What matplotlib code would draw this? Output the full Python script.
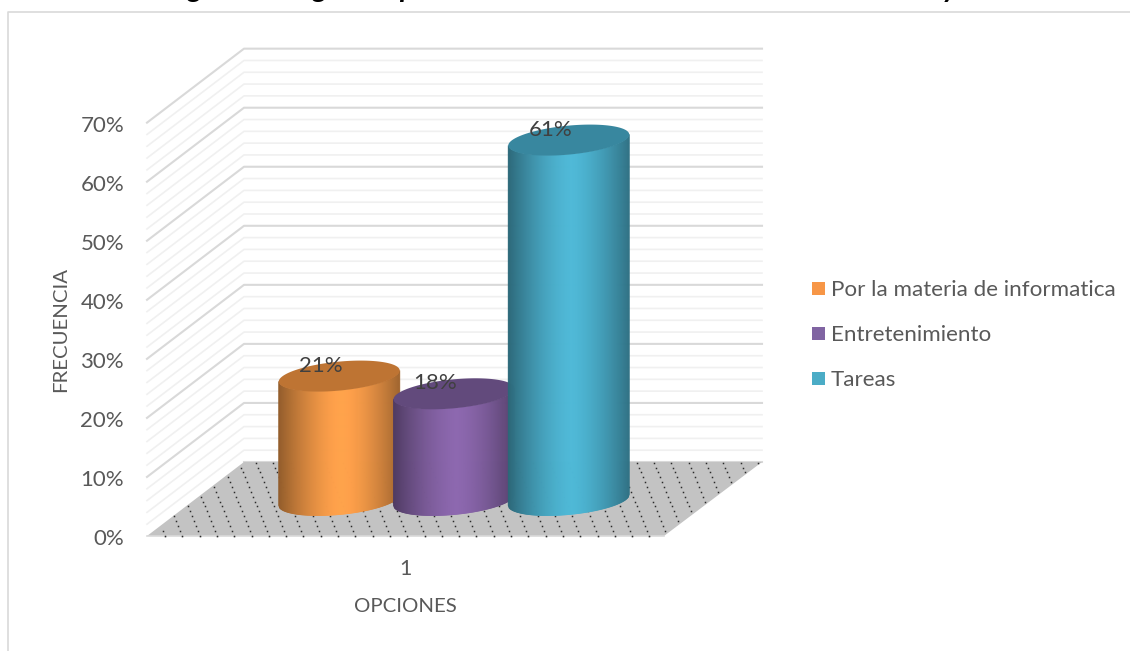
import numpy as np
from matplotlib import pyplot as plt
from matplotlib.collections import PolyCollection
from matplotlib.colors import to_rgb

plt.rcParams['font.family'] = ['Lato', 'DejaVu Sans']

# data
categories = ["Por la materia de informatica", "Entretenimiento", "Tareas"]
values = [21, 18, 61]
group_labels = ["1"]
y_ticks = [0, 10, 20, 30, 40, 50, 60, 70]
body_colors = ["#FFA04A", "#8A66AC", "#4DB5D3"]
top_colors = ["#BE7433", "#624A7C", "#38879F"]
legend_colors = ["#F79646", "#8064A2", "#4BACC6"]

# pixel geometry of the fake 3d box
FRONT_LEFT = 147
FRONT_RIGHT = 664
BACK_LEFT = 244
BACK_RIGHT = 762
FRONT_ZERO = 536
BACK_ZERO = 462
WALL_SCALE = 5.905
BAR_SCALE = 5.9
BAR_ZERO = 500
GROUP_CENTER = 454
BAR_STEP = 114.75
RX = 60.5
RY = 14.5
TILT = 5.5


def front_y(v):
    return FRONT_ZERO - WALL_SCALE * v


def back_y(v):
    return BACK_ZERO - WALL_SCALE * v


def draw_walls(ax):
    for v in range(0, 71, 2):
        major = v % 10 == 0
        color = "#D9D9D9" if major else "#F0F0F0"
        width = 1.5 if major else 1.2
        if v == 0:
            ax.plot([BACK_LEFT, BACK_RIGHT], [back_y(0), back_y(0)], color=color, lw=width)
            continue
        ax.plot([FRONT_LEFT, BACK_LEFT, BACK_RIGHT], [front_y(v), back_y(v), back_y(v)],
                color=color, lw=width, zorder=1)


def draw_floor(ax):
    ax.fill([FRONT_LEFT, BACK_LEFT, BACK_RIGHT, FRONT_RIGHT],
            [FRONT_ZERO, BACK_ZERO, BACK_ZERO, FRONT_ZERO],
            color="#C3C3C3", lw=0, zorder=2)
    ax.plot([FRONT_LEFT, FRONT_RIGHT], [FRONT_ZERO, FRONT_ZERO], color="#D9D9D9", lw=1.2, zorder=2)
    # dotted pattern of the floor
    xs, ys = [], []
    slope = (BACK_LEFT - FRONT_LEFT) / (FRONT_ZERO - BACK_ZERO)
    for row, y in enumerate(np.arange(FRONT_ZERO - 0.5, BACK_ZERO, -4.85)):
        left = FRONT_LEFT + (FRONT_ZERO - y) * slope
        right = FRONT_RIGHT + (FRONT_ZERO - y) * slope
        start = 165 - 2.0 * row
        start += np.ceil((left + 1 - start) / 17.3) * 17.3
        for x in np.arange(start, right - 1, 17.3):
            xs.append(x)
            ys.append(y)
    ax.scatter(xs, ys, s=2.8, color="#8C8C8C", marker="o", lw=0, zorder=3)
    ax.scatter(xs, ys, s=0.7, color="#222222", marker="o", lw=0, zorder=3)


def shade(u):
    """ Brightness across the cylinder, u goes from -1 to 1. """
    return 1.02 - 0.42 * np.abs(u - 0.05) ** 1.5


def draw_cylinder(ax, cx, value, body, top, z):
    cy_bottom = BAR_ZERO
    cy_top = BAR_ZERO - BAR_SCALE * value
    edges = np.linspace(-1, 1, 121)
    polys, colors = [], []
    base = np.array(to_rgb(body))
    for u0, u1 in zip(edges[:-1], edges[1:]):
        x0, x1 = cx + RX * u0, cx + RX * u1
        low0 = RY * np.sqrt(1 - u0 ** 2) - TILT * u0
        low1 = RY * np.sqrt(1 - u1 ** 2) - TILT * u1
        polys.append([(x0, cy_top + low0), (x1, cy_top + low1),
                      (x1, cy_bottom + low1), (x0, cy_bottom + low0)])
        colors.append(np.clip(base * shade((u0 + u1) / 2), 0, 1))
    ax.add_collection(PolyCollection(polys, facecolors=colors, edgecolors=colors,
                                     linewidths=0.6, zorder=z))
    t = np.linspace(0, 2 * np.pi, 200)
    ax.fill(cx + RX * np.cos(t), cy_top + RY * np.sin(t) - TILT * np.cos(t),
            color=top, lw=0, zorder=z + 0.1)


def main():
    fig = plt.figure(figsize=(11.3, 6.51), dpi=100)
    ax = fig.add_axes([0, 0, 1, 1])
    ax.set_xlim(0, 1130)
    ax.set_ylim(651, 0)
    ax.axis("off")

    # chart frame
    ax.plot([7.5, 7.5, 1130], [651, 11.5, 11.5], color="#D9D9D9", lw=1.2, zorder=1)

    # only the tails of the title letters are left in the crop
    for letter, x in zip("ggpy", [195, 320, 407, 949]):
        ax.text(x, -3.5, letter, fontsize=21, fontweight="bold", fontstyle="italic",
                color="black", ha="center", va="baseline", clip_on=True)

    draw_walls(ax)
    draw_floor(ax)

    for i, value in enumerate(values):
        cx = GROUP_CENTER + (i - 1) * BAR_STEP
        draw_cylinder(ax, cx, value, body_colors[i], top_colors[i], 4 + i)
    for i, value in enumerate(values):
        cx = GROUP_CENTER + (i - 1) * BAR_STEP
        ax.text(cx - 18.5, BAR_ZERO - BAR_SCALE * value - 10.5, "{}%".format(value), fontsize=16,
                color="#404040", ha="center", va="center", zorder=10)

    for v in y_ticks:
        ax.text(124, front_y(v) + 3, "{}%".format(v), fontsize=16, color="#595959",
                ha="right", va="center")
    ax.text(405, 569, group_labels[0], fontsize=15.5, color="#595959", ha="center", va="center")
    ax.text(405, 607, "OPCIONES", fontsize=14.7, color="#595959", ha="center", va="center")
    ax.text(61, 329, "FRECUENCIA", fontsize=14.7, color="#595959", rotation=90,
            ha="center", va="center")

    for i, name in enumerate(categories):
        y = 288.5 + i * 45
        ax.fill([812, 825, 825, 812], [y - 6.5, y - 6.5, y + 6.5, y + 6.5],
                color=legend_colors[i], lw=0)
        ax.text(831, y + 1.5, name, fontsize=16.1, color="#595959", ha="left", va="center")

    fig.savefig("out.png", dpi=100)


if __name__ == '__main__':
    main()
